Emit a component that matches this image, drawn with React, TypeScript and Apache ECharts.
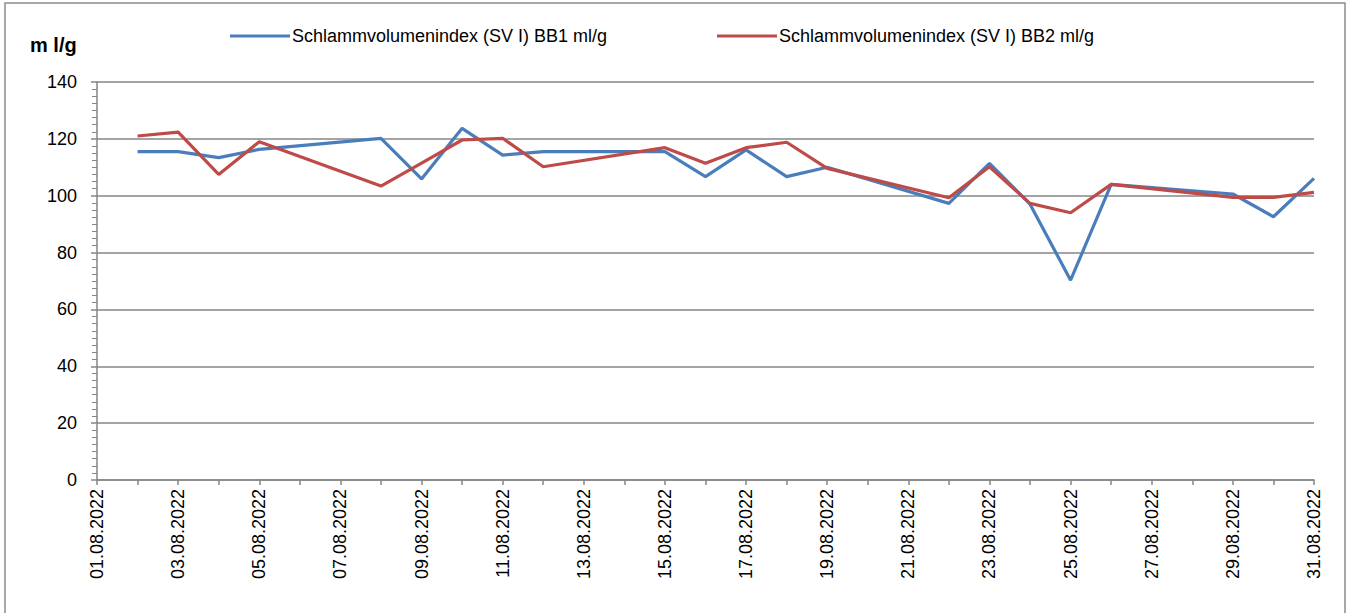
import React, { useEffect, useRef } from "react";
import * as echarts from "echarts";

const dayLabels = [
  "01.08.2022","02.08.2022","03.08.2022","04.08.2022","05.08.2022","06.08.2022","07.08.2022",
  "08.08.2022","09.08.2022","10.08.2022","11.08.2022","12.08.2022","13.08.2022","14.08.2022",
  "15.08.2022","16.08.2022","17.08.2022","18.08.2022","19.08.2022","20.08.2022","21.08.2022",
  "22.08.2022","23.08.2022","24.08.2022","25.08.2022","26.08.2022","27.08.2022","28.08.2022",
  "29.08.2022","30.08.2022","31.08.2022",
];

const sampleDates = [
  "02.08.2022","03.08.2022","04.08.2022","05.08.2022","08.08.2022","09.08.2022","10.08.2022",
  "11.08.2022","12.08.2022","15.08.2022","16.08.2022","17.08.2022","18.08.2022","19.08.2022",
  "22.08.2022","23.08.2022","24.08.2022","25.08.2022","26.08.2022","29.08.2022","30.08.2022",
  "31.08.2022",
];

const bb1 = [115.5, 115.5, 113.4, 116.3, 120.2, 105.9, 123.7, 114.3, 115.5, 115.5, 106.7, 116.1, 106.7, 110, 97.3, 111.4, 97, 70.3, 104, 100.6, 92.6, 106.1];
const bb2 = [121, 122.4, 107.5, 119, 103.4, 111.5, 119.6, 120.2, 110.2, 116.9, 111.4, 116.9, 118.8, 109.6, 99.3, 110.2, 97.3, 94, 104, 99.4, 99.4, 101.2];

const seriesNames = ["Schlammvolumenindex (SV I) BB1 ml/g", "Schlammvolumenindex (SV I) BB2 ml/g"];
const yTicks = { min: 0, max: 140, interval: 20 };

export default function App() {
  const ref = useRef<HTMLDivElement>(null);
  useEffect(() => {
    document.body.style.margin = "0";
    const chart = echarts.init(ref.current!, null, { renderer: "svg" });
    const font = "Arial, 'Liberation Sans', sans-serif";
    const mk = (vals: number[]) => sampleDates.map((d, i) => [d, vals[i]]);
    const legendCommon = {
      top: 22,
      itemWidth: 60,
      itemHeight: 3,
      icon: "rect",
      textStyle: { fontSize: 18, color: "#000", fontFamily: font, padding: [0, 0, 0, -3] },
    };
    chart.setOption({
      animation: false,
      backgroundColor: "#fff",
      textStyle: { fontFamily: font },
      graphic: [
        {
          type: "rect",
          shape: { x: 5, y: 3, width: 1340, height: 640 },
          style: { fill: "none", stroke: "#8c8c8c", lineWidth: 1.5 },
          silent: true,
        },
        {
          type: "text",
          left: 30,
          top: 35,
          style: { text: "m l/g", font: `bold 20px ${font}`, fill: "#000" },
        },
      ],
      legend: [
        { ...legendCommon, left: 225, data: [seriesNames[0]] },
        { ...legendCommon, left: 712, data: [seriesNames[1]] },
      ],
      grid: { left: 97, right: 36, top: 82, bottom: 133, containLabel: false },
      xAxis: {
        type: "category",
        data: dayLabels,
        boundaryGap: false,
        axisLine: { lineStyle: { color: "#868686", width: 1.5 } },
        axisTick: { show: true, interval: 0, length: 5, lineStyle: { color: "#868686", width: 1.5 } },
        axisLabel: { interval: 1, rotate: 90, margin: 9, fontSize: 18, color: "#000", fontFamily: font },
        splitLine: { show: false },
      },
      yAxis: {
        type: "value",
        min: yTicks.min,
        max: yTicks.max,
        interval: yTicks.interval,
        axisLine: { show: true, lineStyle: { color: "#868686", width: 1.5 } },
        axisTick: { show: true, length: 6, lineStyle: { color: "#868686", width: 1.5 } },
        minorTick: { show: true, splitNumber: 8, length: 5, lineStyle: { color: "#868686", width: 1 } },
        axisLabel: { margin: 20, fontSize: 18, color: "#000", fontFamily: font },
        splitLine: { show: true, lineStyle: { color: "#868686", width: 1.5 } },
      },
      series: [
        {
          name: seriesNames[0],
          type: "line",
          data: mk(bb1),
          symbol: "none",
          lineStyle: { color: "#4A7EBB", width: 3.2 },
          itemStyle: { color: "#4A7EBB" },
          z: 2,
        },
        {
          name: seriesNames[1],
          type: "line",
          data: mk(bb2),
          symbol: "none",
          lineStyle: { color: "#BE4B48", width: 3.2 },
          itemStyle: { color: "#BE4B48" },
          z: 3,
        },
      ],
    });
    return () => chart.dispose();
  }, []);
  return <div ref={ref} style={{ position: "absolute", left: 0, top: 0, width: 1350, height: 613 }} />;
}
